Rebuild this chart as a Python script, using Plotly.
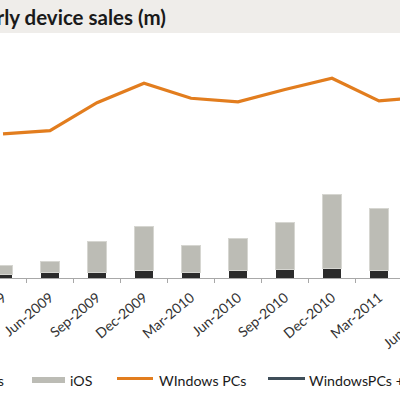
import plotly.graph_objects as go

quarters = ["Mar-2009", "Jun-2009", "Sep-2009", "Dec-2009", "Mar-2010",
            "Jun-2010", "Sep-2010", "Dec-2010", "Mar-2011", "Jun-2011"]
macs = [1.8, 2.3, 2.3, 3.2, 2.3, 3.2, 3.8, 4.1, 3.3, None]
ios = [4.1, 5.4, 14.2, 20.3, 12.4, 14.7, 21.3, 33.8, 28.1, None]
windows_pcs = [65.5, 67.0, 79.7, 88.5, 81.7, 80.1, 85.7, 90.8, 80.5, 82.3]
windows_plus = [None] * len(quarters)

FONT = "Lato"
W, H = 400, 400
TOP, BOTTOM = 34, 278          # plot area in pixels
PH = BOTTOM - TOP
X0 = -0.064
X1 = 8.447
TICK_ANGLE = -40


def py(pix):
    return (BOTTOM - pix) / PH


def px(pix):
    return pix / W


fig = go.Figure()
fig.add_trace(go.Bar(x=quarters, y=macs, name="Macs",
                     marker=dict(color="#2b2b2b", line=dict(width=0))))
fig.add_trace(go.Bar(x=quarters, y=ios, name="iOS",
                     marker=dict(color="#bcbcb5", line=dict(color="#d6d6d1", width=1))))
fig.add_trace(go.Scatter(x=quarters, y=windows_pcs, name="WIndows PCs", mode="lines",
                         line=dict(color="#e27d1e", width=3.2)))
fig.add_trace(go.Scatter(x=quarters, y=windows_plus, name="WindowsPCs + Macs", mode="lines",
                         line=dict(color="#3f4e59", width=3.2)))

shapes = [
    dict(type="rect", xref="paper", yref="paper", x0=-0.05, x1=1.05, y0=py(33), y1=py(-2),
         fillcolor="#efedea", line=dict(width=0), layer="below"),
    # legend swatches
    dict(type="rect", xref="paper", yref="paper", x0=px(-40), x1=px(-7), y0=py(383), y1=py(377),
         fillcolor="#2b2b2b", line=dict(width=0)),
    dict(type="rect", xref="paper", yref="paper", x0=px(32), x1=px(65), y0=py(383), y1=py(377),
         fillcolor="#bcbcb5", line=dict(width=0)),
    dict(type="line", xref="paper", yref="paper", x0=px(117), x1=px(153), y0=py(378.5), y1=py(378.5),
         line=dict(color="#e27d1e", width=3)),
    dict(type="line", xref="paper", yref="paper", x0=px(268), x1=px(305), y0=py(378.5), y1=py(378.5),
         line=dict(color="#3f4e59", width=3)),
]

leg_font = dict(family=FONT, size=14.2, color="#1a1a1a")
tick_font = dict(family=FONT, size=14, color="#333333")
annotations = [
    dict(text="<b>Quarterly device sales (m)</b>", xref="paper", yref="paper",
         x=px(168), y=py(17), xanchor="right", yanchor="middle", showarrow=False,
         font=dict(family=FONT, size=20.5, color="#1a1a1a")),
    dict(text="Macs", xref="paper", yref="paper", x=px(6), y=py(380), xanchor="right",
         yanchor="middle", showarrow=False, font=leg_font),
    dict(text="iOS", xref="paper", yref="paper", x=px(68), y=py(380), xanchor="left",
         yanchor="middle", showarrow=False, font=leg_font),
    dict(text="WIndows PCs", xref="paper", yref="paper", x=px(157), y=py(380), xanchor="left",
         yanchor="middle", showarrow=False, font=leg_font),
    dict(text="WindowsPCs + Macs", xref="paper", yref="paper", x=px(307), y=py(380), xanchor="left",
         yanchor="middle", showarrow=False, font=leg_font),
    # label of the last category, which lies just beyond the visible range
    dict(text=quarters[9], xref="paper", yref="paper",
         x=(9 - X0) / (X1 - X0) + px(12), y=py(298), xanchor="right", yanchor="top",
         textangle=TICK_ANGLE, showarrow=False, font=tick_font),
]

fig.update_layout(
    width=W, height=H,
    margin=dict(l=0, r=0, t=TOP, b=H - BOTTOM, pad=0),
    paper_bgcolor="white", plot_bgcolor="white",
    barmode="stack", bargap=0.6,
    showlegend=False,
    shapes=shapes, annotations=annotations,
    xaxis=dict(type="category", range=[X0, X1], showgrid=False, zeroline=False,
               showline=True, linecolor="#a8a8a8", linewidth=1,
               ticks="outside", tickson="boundaries", ticklen=4, tickcolor="#a8a8a8",
               tickangle=TICK_ANGLE, tickfont=tick_font, ticklabelstandoff=5,
               automargin=False),
    yaxis=dict(range=[0, PH / 2.2], visible=False, showgrid=False, zeroline=False,
               fixedrange=True),
)

fig.write_html("out.html", config={"displayModeBar": False},
               post_script="document.body.style.margin='0';document.body.style.overflow='hidden';")
